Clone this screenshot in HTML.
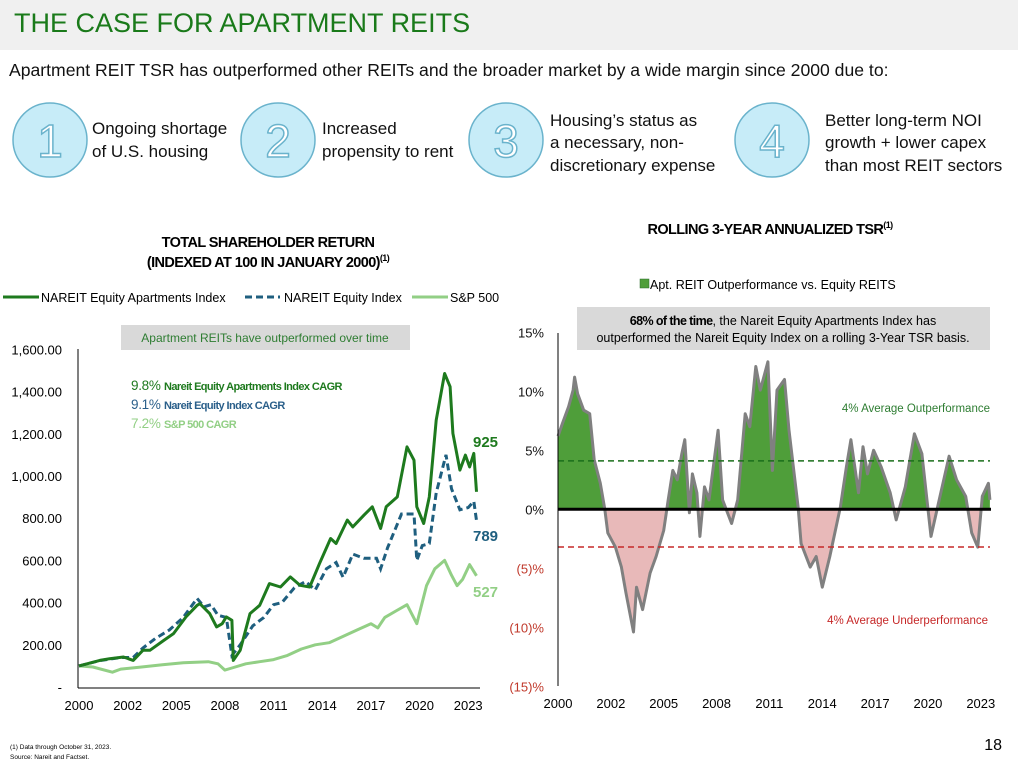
<!DOCTYPE html>
<html><head><meta charset="utf-8">
<style>
body{margin:0;width:1018px;height:768px;position:relative;overflow:hidden;background:#fff;font-family:"Liberation Sans",sans-serif;color:#111}
.abs{position:absolute}
</style></head><body>
<div class="abs" style="left:0;top:0;width:1018px;height:50px;background:#f0f0f0"></div>
<div class="abs" style="left:14px;top:8px;font-size:27px;color:#1a7a1a">THE CASE FOR APARTMENT REITS</div>
<div class="abs" style="left:9px;top:60px;font-size:17.6px">Apartment REIT TSR has outperformed other REITs and the broader market by a wide margin since 2000 due to:</div>

<svg class="abs" style="left:0;top:0" width="1018" height="768">
 <g font-family="Liberation Sans" font-size="46" fill="#fff" stroke="#6ab3cc" stroke-width="1.5" text-anchor="middle">
  <circle cx="50" cy="140" r="37" fill="#c7ecf8"/><text x="50" y="157">1</text>
  <circle cx="278" cy="140" r="37" fill="#c7ecf8"/><text x="278" y="157">2</text>
  <circle cx="506" cy="140" r="37" fill="#c7ecf8"/><text x="506" y="157">3</text>
  <circle cx="772" cy="140" r="37" fill="#c7ecf8"/><text x="772" y="157">4</text>
 </g>
 <g font-family="Liberation Sans" font-size="17" fill="#111">
  <text x="92" y="134">Ongoing shortage</text><text x="92" y="157">of U.S. housing</text>
  <text x="322" y="134">Increased</text><text x="322" y="157">propensity to rent</text>
  <text x="550" y="126">Housing’s status as</text><text x="550" y="148">a necessary, non-</text><text x="550" y="171">discretionary expense</text>
  <text x="825" y="126">Better long-term NOI</text><text x="825" y="148">growth + lower capex</text><text x="825" y="171">than most REIT sectors</text>
 </g>
 <g font-family="Liberation Sans" font-weight="bold" font-size="14.5" text-anchor="middle" letter-spacing="-0.6">
  <text x="268" y="247">TOTAL SHAREHOLDER RETURN</text>
  <text x="268" y="267">(INDEXED AT 100 IN JANUARY 2000)<tspan font-size="9" dy="-6">(1)</tspan></text>
  <text x="770" y="234">ROLLING 3-YEAR ANNUALIZED TSR<tspan font-size="9" dy="-6">(1)</tspan></text>
 </g>
 <g id="left"></g>
 <g id="right"></g>
 <text x="1002" y="750" font-size="16" text-anchor="end" font-family="Liberation Sans">18</text>
 <text x="10" y="749" font-size="6.5" font-family="Liberation Sans">(1)    Data through October 31, 2023.</text>
 <text x="10" y="759" font-size="6.5" font-family="Liberation Sans">Source: Nareit and Factset.</text>
</svg>

<script>
const NS="http://www.w3.org/2000/svg";
const xLabels=["2000","2002","2005","2008","2011","2014","2017","2020","2023"];
const labelMonths=[0,35,70,105,140,175,210,245,280];
// Left chart data (month index, value)
const aptMonths=[0,15,22,32,39,46,51,61,68,77,85,87,94,99,103,106,110,111,116,123,130,137,145,152,159,166,173,181,185,193,197,205,211,217,221,229,236,241,243,248,252,257,263,267,269,274,278,281,284,286];
const aptValues=[100,126,134,142,126,174,174,221,253,332,387,395,348,285,300,332,316,126,174,348,387,490,474,522,482,474,585,704,680,791,759,814,854,751,854,901,1138,1075,854,775,901,1265,1486,1423,1202,1028,1099,1043,1107,925];
const eqMonths=[0,15,30,39,46,55,65,75,85,90,95,100,106,110,116,125,133,140,146,155,163,170,178,185,190,197,205,214,217,222,232,241,243,247,252,257,264,268,274,280,284,286];
const eqValues=[100,125,140,140,185,230,270,330,420,380,390,340,330,150,200,290,330,390,400,470,500,460,560,590,520,630,610,610,560,660,820,820,600,670,680,920,1100,940,840,850,880,789];
const spMonths=[0,10,24,30,45,60,75,93,100,105,110,120,130,140,150,160,170,180,190,200,210,215,220,228,236,243,250,256,263,268,272,276,281,286];
const spValues=[100,95,70,85,95,105,115,120,110,80,90,110,120,130,150,180,200,210,240,270,300,280,330,360,390,300,480,560,600,530,480,510,580,527];
const yTicks=[0,200,400,600,800,1000,1200,1400,1600];
const yTickLabels=["-","200.00","400.00","600.00","800.00","1,000.00","1,200.00","1,400.00","1,600.00"];
// Right chart data (month index, outperformance %)
const rMonths=[0,3,7,10,11,13,17,21,24,28,31,33,38,42,45,50,52,56,61,65,70,73,76,79,82,84,87,89,92,94,97,100,106,109,115,119,124,127,131,134,139,142,145,150,153,159,161,167,171,175,180,187,191,194,199,202,205,209,214,220,224,230,236,241,245,247,253,259,264,270,274,278,281,285,286];
const rValues=[6.2,7.3,8.7,10.1,11.2,9.8,8.4,8.1,4.2,2.2,0,-2,-3.2,-4.9,-7.1,-10.4,-6.6,-8.5,-5.4,-4,-1.8,0.8,3.3,2.5,4.7,5.9,-0.3,3,1.4,-2.3,1.9,0.8,6.7,0.8,-1.2,0.8,8.1,7,12.1,10.1,12.5,3.3,10.1,11,6.7,0.2,-2.9,-4.9,-4,-6.6,-4,0.2,3.6,5.9,1.4,5.3,3,5,3.6,1.4,-0.9,1.9,6.4,4.7,0,-2.3,1.1,4.5,2.5,1.1,-2,-3.2,1.1,2.2,0.8];
const rTicks=[15,10,5,0,-5,-10,-15];
const rTickLabels=["15%","10%","5%","0%","(5)%","(10)%","(15)%"];
const avgOut=4.1, avgUnder=-3.2;

function el(tag,attrs,parent,txt){const e=document.createElementNS(NS,tag);for(const k in attrs)e.setAttribute(k,attrs[k]);if(txt!==undefined)e.textContent=txt;parent.appendChild(e);return e;}

// LEFT
const L=document.getElementById('left');
const lx=m=>79+m*1.39, ly=v=>687-v*0.211;
let t;
t=el('rect',{x:121,y:325,width:289,height:25,fill:'#d9d9d9'},L);

t=el('text',{x:265,y:342,'font-size':12,'text-anchor':'middle',fill:'#2e7d32','font-family':'Liberation Sans'},L,'Apartment REITs have outperformed over time');

yTicks.forEach((v,i)=>{const e=el('text',{x:62,y:ly(v)+5,'font-size':13,'text-anchor':'end','font-family':'Liberation Sans'},L,yTickLabels[i]);
 });
xLabels.forEach((s,i)=>{const e=el('text',{x:lx(labelMonths[i]),y:710,'font-size':13,'text-anchor':'middle','font-family':'Liberation Sans'},L,s);
 });
t=el('line',{x1:78,y1:349,x2:78,y2:688,stroke:'#000','stroke-width':1},L);
t=el('line',{x1:78,y1:688,x2:480,y2:688,stroke:'#000','stroke-width':1},L);
const pts=(ms,vs,fx,fy)=>ms.map((m,i)=>fx(m).toFixed(1)+','+fy(vs[i]).toFixed(1)).join(' ');
t=el('polyline',{points:pts(spMonths,spValues,lx,ly),fill:'none',stroke:'#92cf85','stroke-width':3,'stroke-linejoin':'round'},L);

t=el('polyline',{points:pts(eqMonths,eqValues,lx,ly),fill:'none',stroke:'#1f5f7f','stroke-width':3,'stroke-dasharray':'7,4'},L);

t=el('polyline',{points:pts(aptMonths,aptValues,lx,ly),fill:'none',stroke:'#1e7a1e','stroke-width':3,'stroke-linejoin':'round'},L);

const endLbl=[[aptValues[aptValues.length-1],'#1e7a1e',447],[eqValues[eqValues.length-1],'#1f5f7f',541],[spValues[spValues.length-1],'#92cf85',597]];
endLbl.forEach(a=>{const e=el('text',{x:473,y:a[2],'font-size':15,'font-weight':'bold',fill:a[1],'font-family':'Liberation Sans'},L,String(a[0]));
 });
[['9.8%','Nareit Equity Apartments Index CAGR','#1e7a1e',390],['9.1%','Nareit Equity Index CAGR','#2a5f8a',409],['7.2%','S&P 500 CAGR','#92cf85',428]].forEach(a=>{
 const e=el('text',{x:131,y:a[3],'font-size':13.5,fill:a[2],'font-family':'Liberation Sans','letter-spacing':'-0.3'},L);
 
 el('tspan',{},e,a[0]+' ');el('tspan',{'font-size':11,'font-weight':'bold','letter-spacing':'-0.6'},e,a[1]);});
// legend
const lg=el('g',{'font-family':'Liberation Sans','font-size':12.5},L);

el('line',{x1:3,y1:297,x2:39,y2:297,stroke:'#1e7a1e','stroke-width':3},lg);el('text',{x:41,y:302},lg,'NAREIT Equity Apartments Index');
el('line',{x1:245,y1:297,x2:280,y2:297,stroke:'#1f5f7f','stroke-width':3,'stroke-dasharray':'7,4'},lg);el('text',{x:284,y:302},lg,'NAREIT Equity Index');
el('line',{x1:412,y1:297,x2:448,y2:297,stroke:'#92cf85','stroke-width':3},lg);el('text',{x:450,y:302},lg,'S&P 500');

// RIGHT
const R=document.getElementById('right');
const rx=m=>558+m*1.51, ry=v=>509.3-v*11.8;
t=el('rect',{x:577,y:307,width:413,height:43,fill:'#d9d9d9'},R);
t=el('text',{x:783,y:325,'font-size':12.5,'text-anchor':'middle','font-family':'Liberation Sans'},R);

el('tspan',{'font-weight':'bold','letter-spacing':'-0.6'},t,'68% of the time');el('tspan',{},t,', the Nareit Equity Apartments Index has');
t=el('text',{x:783,y:342,'font-size':12.5,'text-anchor':'middle','font-family':'Liberation Sans'},R,'outperformed the Nareit  Equity Index on a rolling 3-Year TSR basis.');

rTicks.forEach((v,i)=>{const e=el('text',{x:544,y:ry(v)+5,'font-size':13,'text-anchor':'end',fill:v<0?'#c0392b':'#111','font-family':'Liberation Sans'},R,rTickLabels[i]);
 });
xLabels.forEach((s,i)=>{const e=el('text',{x:rx(labelMonths[i]),y:708,'font-size':13,'text-anchor':'middle','font-family':'Liberation Sans'},R,s);
 });
const defs=el('defs',{},R);
const c1=el('clipPath',{id:'above'},defs);el('rect',{x:550,y:300,width:460,height:ry(0)-300},c1);
const c2=el('clipPath',{id:'below'},defs);el('rect',{x:550,y:ry(0),width:460,height:300},c2);
const areaPts=rx(rMonths[0])+','+ry(0)+' '+pts(rMonths,rValues,rx,ry)+' '+rx(rMonths[rMonths.length-1])+','+ry(0);
t=el('polygon',{points:areaPts,fill:'#4f9e3a','clip-path':'url(#above)'},R);
t=el('polygon',{points:areaPts,fill:'#e8b9b9','clip-path':'url(#below)'},R);
t=el('polyline',{points:pts(rMonths,rValues,rx,ry),fill:'none',stroke:'#808080','stroke-width':3,'stroke-linejoin':'round'},R);

t=el('line',{x1:558,y1:ry(avgOut),x2:990,y2:ry(avgOut),stroke:'#1a6e1a','stroke-width':1.5,'stroke-dasharray':'6,4'},R);
t=el('line',{x1:558,y1:ry(avgUnder),x2:990,y2:ry(avgUnder),stroke:'#c62828','stroke-width':1.5,'stroke-dasharray':'6,4'},R);
t=el('line',{x1:558,y1:ry(0),x2:991,y2:ry(0),stroke:'#000','stroke-width':3},R);
t=el('line',{x1:558,y1:333,x2:558,y2:686,stroke:'#000','stroke-width':1},R);
t=el('text',{x:990,y:412,'font-size':11.5,'text-anchor':'end',fill:'#2e7d32','font-family':'Liberation Sans'},R,'4% Average Outperformance');
t=el('text',{x:988,y:624,'font-size':11.5,'text-anchor':'end',fill:'#c62828','font-family':'Liberation Sans'},R,'4% Average Underperformance');
const rg=el('g',{'font-family':'Liberation Sans','font-size':12.5},R);

el('rect',{x:640,y:279,width:9,height:9,fill:'#4f9e3a',stroke:'#2e6e2e','stroke-width':0.5},rg);el('text',{x:650,y:289},rg,'Apt. REIT Outperformance vs. Equity REITS');
</script>
</body></html>
